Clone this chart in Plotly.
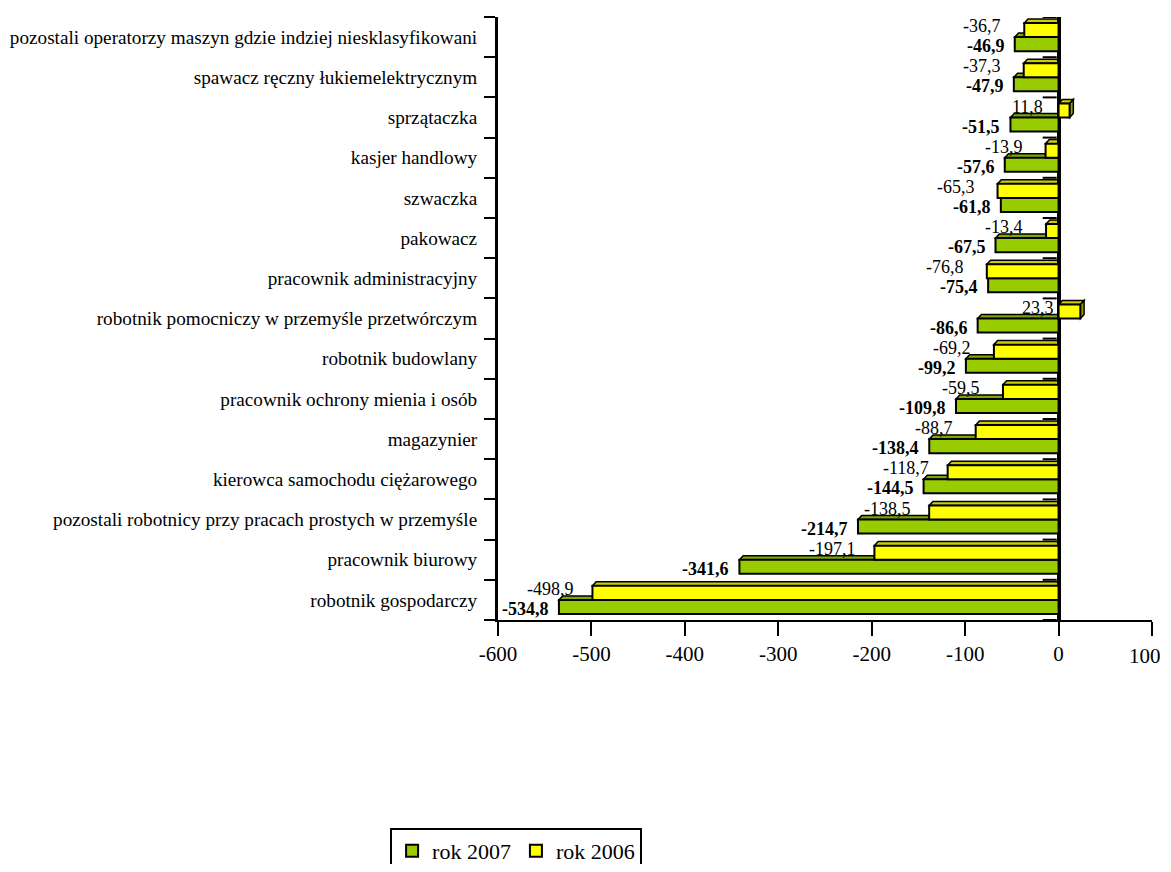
import plotly.graph_objects as go

categories = [
    "pozostali operatorzy maszyn gdzie indziej niesklasyfikowani",
    "spawacz ręczny łukiemelektrycznym",
    "sprzątaczka",
    "kasjer handlowy",
    "szwaczka",
    "pakowacz",
    "pracownik administracyjny",
    "robotnik pomocniczy w przemyśle przetwórczym",
    "robotnik budowlany",
    "pracownik ochrony mienia i osób",
    "magazynier",
    "kierowca samochodu ciężarowego",
    "pozostali robotnicy przy pracach prostych w przemyśle",
    "pracownik biurowy",
    "robotnik gospodarczy",
]
rok_2007 = [-46.9, -47.9, -51.5, -57.6, -61.8, -67.5, -75.4, -86.6, -99.2, -109.8,
            -138.4, -144.5, -214.7, -341.6, -534.8]
rok_2006 = [-36.7, -37.3, 11.8, -13.9, -65.3, -13.4, -76.8, 23.3, -69.2, -59.5,
            -88.7, -118.7, -138.5, -197.1, -498.9]
x_ticks = [-600, -500, -400, -300, -200, -100, 0, 100]

FONT = "Liberation Serif, Times New Roman, serif"
GREEN = "#99CC00"
YELLOW = "#FFFF00"

# bottom-to-top order for the category axis
order = categories[::-1]

def fmt(v):
    return f"{v:.1f}".replace(".", ",")

fig = go.Figure()
fig.add_trace(go.Bar(
    y=categories, x=rok_2007, orientation="h", name="rok 2007",
    marker=dict(color=GREEN, line=dict(color="black", width=2)),
))
fig.add_trace(go.Bar(
    y=categories, x=rok_2006, orientation="h", name="rok 2006",
    marker=dict(color=YELLOW, line=dict(color="black", width=2)),
))

# pseudo-3D depth faces, derived from the data
half = 0.35
dx, dy = 4.0, 0.1
shapes = []
for cat, g, yv in zip(categories, rok_2007, rok_2006):
    i = order.index(cat)
    t = i
    shapes.append(dict(type="path", xref="x", yref="y", layer="below",
                       path=f"M {g},{t} L {g+dx},{t+dy} L 0,{t+dy} L 0,{t} Z",
                       fillcolor="#7FA800", line=dict(color="black", width=1.5)))
    t = i + half
    b = i
    if yv < 0:
        shapes.append(dict(type="path", xref="x", yref="y", layer="below",
                           path=f"M {yv},{t} L {yv+dx},{t+dy} L 0,{t+dy} L 0,{t} Z",
                           fillcolor="#CCCC00", line=dict(color="black", width=1.5)))
    else:
        shapes.append(dict(type="path", xref="x", yref="y", layer="below",
                           path=f"M 0,{t} L {dx},{t+dy} L {yv+dx},{t+dy} L {yv},{t} Z",
                           fillcolor="#CCCC00", line=dict(color="black", width=1.5)))
        shapes.append(dict(type="path", xref="x", yref="y", layer="below",
                           path=f"M {yv},{b} L {yv},{t} L {yv+dx},{t+dy} L {yv+dx},{b+dy} Z",
                           fillcolor="#999900", line=dict(color="black", width=1.5)))

# small floor ticks near the wall at category boundaries
for k in range(len(categories) + 1):
    yb = k - 0.5
    shapes.append(dict(type="line", xref="x", yref="y", layer="below",
                       x0=-17, x1=-2, y0=yb, y1=yb,
                       line=dict(color="black", width=2)))

annotations = []
for cat, g, yv in zip(categories, rok_2007, rok_2006):
    annotations.append(dict(
        x=g, y=cat, xref="x", yref="y", text=f"<b>{fmt(g)}</b>",
        showarrow=False, xanchor="right", yanchor="middle", xshift=-8, yshift=-9,
        font=dict(family=FONT, size=18, color="black"),
    ))
    annotations.append(dict(
        x=yv, y=cat, xref="x", yref="y", text=fmt(yv),
        showarrow=False, xanchor="center", yanchor="middle", xshift=-42, yshift=11,
        font=dict(family=FONT, size=18, color="black"),
    ))

# last x tick label placed as annotation so it stays inside the page
last_tick = x_ticks[-1]
annotations.append(dict(
    x=last_tick, y=0, xref="x", yref="paper", text=str(last_tick),
    showarrow=False, xanchor="right", yanchor="top", xshift=11, yshift=-22,
    font=dict(family=FONT, size=21, color="black"),
))
tick_text = [str(v) for v in x_ticks[:-1]] + [""]

fig.update_layout(
    width=1155, height=856,
    margin=dict(l=490, r=11, t=9, b=244, autoexpand=False),
    paper_bgcolor="white", plot_bgcolor="white",
    barmode="group", bargap=0.3, bargroupgap=0,
    font=dict(family=FONT, size=17, color="black"),
    showlegend=True,
    legend=dict(orientation="h", x=-0.165, y=-0.345, xanchor="left", yanchor="top",
                bordercolor="black", borderwidth=2, bgcolor="white",
                font=dict(family=FONT, size=22, color="black"),
                itemwidth=30, tracegroupgap=0),
    shapes=shapes,
    annotations=annotations,
    xaxis=dict(range=[-600, 100], tickvals=x_ticks, ticktext=tick_text,
               showgrid=False, zeroline=True, zerolinecolor="black", zerolinewidth=4,
               showline=True, linecolor="black", linewidth=2,
               ticks="outside", ticklen=14, tickwidth=2, tickcolor="black",
               automargin=False,
               tickfont=dict(family=FONT, size=21, color="black")),
    yaxis=dict(type="category", categoryorder="array", categoryarray=order,
               range=[-0.5, len(categories) - 0.5], automargin=False,
               showgrid=False, showline=True, linecolor="black", linewidth=3,
               ticks="outside", ticklen=11, tickwidth=2, tickcolor="black",
               tickson="boundaries", ticklabelstandoff=14,
               tickfont=dict(family=FONT, size=19.2, color="black")),
)

fig.write_html("out.html")
